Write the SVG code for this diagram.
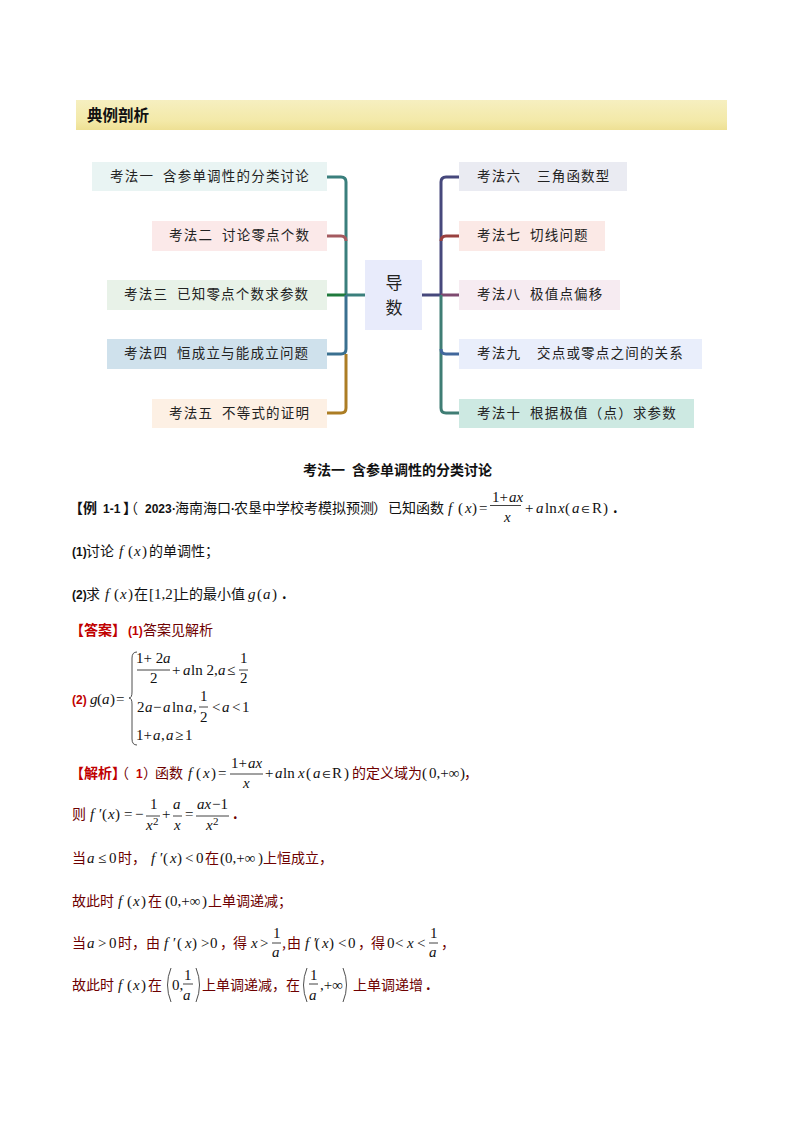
<svg xmlns="http://www.w3.org/2000/svg" width="794" height="1123" viewBox="0 0 794 1123">
<style>
text{font-family:"Liberation Sans","Noto Sans CJK SC",sans-serif;font-size:14px;fill:#111}
.n{font-family:"Noto Sans CJK SC","Liberation Sans",sans-serif;font-size:13.500px;letter-spacing:1.200px;fill:#222}
.z{font-family:"Noto Sans CJK SC",sans-serif}
.b{font-weight:700}
.i{font-family:"Liberation Serif",serif;font-style:italic;font-size:15px}
.u{font-family:"Liberation Serif",serif;font-size:15px}
.e{font-family:"DejaVu Sans",sans-serif;font-size:10px}
.s{font-size:11px}
.l{font-family:"Liberation Sans",sans-serif;font-weight:700;font-size:12px}
.red{fill:#c00000}
.dr{fill:#6e0000}
.dr .i,.dr .u,.dr .e,.k .i,.k .u,.k .e{fill:#111}
.dr .red{fill:#c00000}
.c{fill:none;stroke-width:3;stroke-linejoin:round}
.bar{stroke:#111;stroke-width:.8;fill:none}
.p{stroke:#222;stroke-width:.8;fill:none}
</style>
<defs><linearGradient id="hd" x1="0" y1="0" x2="0" y2="1"><stop offset="0" stop-color="#f6efc0"/><stop offset=".7" stop-color="#f3e9a8"/><stop offset="1" stop-color="#eee094"/></linearGradient></defs>
<rect width="794" height="1123" fill="#fff"/>
<g id="header"><rect x="76" y="100" width="651" height="30" fill="url(#hd)"/><text class="z b" x="87" y="121" style="font-size:15.500px">典例剖析</text></g>
<g id="connectors">
<path class="c" stroke="#3a7f7c" d="M327 177H341Q346 177 346 182V295"/>
<path class="c" stroke="#a45a5f" d="M327 236H341Q346 236 346 241"/>
<path class="c" stroke="#1f7a3c" d="M327 295H346"/>
<path class="c" stroke="#3a7f7c" d="M346 295H365"/>
<path class="c" stroke="#3a7090" d="M327 354H341Q346 354 346 349V295"/>
<path class="c" stroke="#ac7d24" d="M327 413H341Q346 413 346 408V354"/>
<path class="c" stroke="#46487c" d="M459 177H446Q441 177 441 182V295"/>
<path class="c" stroke="#99403f" d="M459 236H446Q441 236 441 241"/>
<path class="c" stroke="#46487c" d="M422 295H441"/>
<path class="c" stroke="#7e4a70" d="M441 295H459"/>
<path class="c" stroke="#3f7d74" d="M441 295V408Q441 413 446 413H459"/>
<path class="c" stroke="#41679c" d="M459 354H446Q441 354 441 349"/>
</g>
<g id="n1"><rect x="92" y="162" width="235" height="29" fill="#e9f4f3"/><text class="n" y="181"><tspan x="110">考法一</tspan><tspan x="163">含参单调性的分类讨论</tspan></text></g>
<g id="n2"><rect x="152" y="221" width="175" height="30" fill="#fbe9e9"/><text class="n" y="240"><tspan x="169">考法二</tspan><tspan x="222">讨论零点个数</tspan></text></g>
<g id="n3"><rect x="107" y="280" width="220" height="30" fill="#e8f2e8"/><text class="n" y="299"><tspan x="124">考法三</tspan><tspan x="177">已知零点个数求参数</tspan></text></g>
<g id="n4"><rect x="107" y="339" width="220" height="30" fill="#cfe1ec"/><text class="n" y="358"><tspan x="124">考法四</tspan><tspan x="177">恒成立与能成立问题</tspan></text></g>
<g id="n5"><rect x="152" y="399" width="175" height="29" fill="#fdf0e4"/><text class="n" y="418"><tspan x="169">考法五</tspan><tspan x="222">不等式的证明</tspan></text></g>
<g id="center"><rect x="365" y="260" width="57" height="70" fill="#e8ebfb"/><text class="z" x="394" y="289" text-anchor="middle" style="font-size:17px;fill:#222">导</text><text class="z" x="394" y="314" text-anchor="middle" style="font-size:17px;fill:#222">数</text></g>
<g id="n6"><rect x="459" y="162" width="168" height="29" fill="#eaebf2"/><text class="n" y="181"><tspan x="477">考法六</tspan><tspan x="537">三角函数型</tspan></text></g>
<g id="n7"><rect x="459" y="221" width="146" height="30" fill="#fbe9e6"/><text class="n" y="240"><tspan x="477">考法七</tspan><tspan x="530">切线问题</tspan></text></g>
<g id="n8"><rect x="459" y="280" width="161" height="30" fill="#f6ebf1"/><text class="n" y="299"><tspan x="477">考法八</tspan><tspan x="530">极值点偏移</tspan></text></g>
<g id="n9"><rect x="459" y="339" width="243" height="30" fill="#e9eefb"/><text class="n" y="358"><tspan x="477">考法九</tspan><tspan x="537">交点或零点之间的关系</tspan></text></g>
<g id="n10"><rect x="459" y="399" width="235" height="29" fill="#cde9e2"/><text class="n" y="418"><tspan x="477">考法十</tspan><tspan x="530">根据极值（点）求参数</tspan></text></g>

<g id="body">
<text class="z b" y="475"><tspan x="303">考法一</tspan><tspan x="352">含参单调性的分类讨论</tspan></text>

<text class="k z" y="513"><tspan x="69" class="b">【例</tspan><tspan x="103" class="l">1-1</tspan><tspan x="123" class="b" style="letter-spacing:-6px">】</tspan><tspan>（</tspan><tspan x="145" class="l">2023</tspan><tspan x="172" class="l">·</tspan><tspan x="175">海南海口</tspan><tspan x="231" class="l">·</tspan><tspan x="234">农垦中学校考模拟预测</tspan><tspan x="373">）</tspan><tspan x="388">已知函数</tspan><tspan x="448" class="i">f</tspan><tspan x="458" class="u">(</tspan><tspan x="465" class="i">x</tspan><tspan x="472" class="u">)</tspan><tspan x="479" class="u">=</tspan><tspan x="525" class="u">+</tspan><tspan x="536" class="i">a</tspan><tspan x="545" class="u">ln</tspan><tspan x="558" class="i">x</tspan><tspan x="565" class="u">(</tspan><tspan x="572" class="i">a</tspan><tspan x="581" class="e">∈</tspan><tspan x="592" class="u">R</tspan><tspan x="603" class="u">)</tspan><tspan x="613" class="b">.</tspan></text>
<text y="502"><tspan x="492" class="u">1+</tspan><tspan x="509" class="i">ax</tspan></text><path class="bar" d="M490 505.500H521"/><text class="i" x="504" y="522">x</text>

<text class="z" y="556"><tspan x="72" class="l">(1)</tspan><tspan x="86">讨论</tspan><tspan x="119" class="i">f</tspan><tspan x="128" class="u">(</tspan><tspan x="134" class="i">x</tspan><tspan x="142" class="u">)</tspan><tspan x="149">的单调性；</tspan></text>
<text class="z" y="599"><tspan x="72" class="l">(2)</tspan><tspan x="86">求</tspan><tspan x="105" class="i">f</tspan><tspan x="114" class="u">(</tspan><tspan x="120" class="i">x</tspan><tspan x="128" class="u">)</tspan><tspan x="134">在</tspan><tspan x="149" class="u">[1,2]</tspan><tspan x="175">上的最小值</tspan><tspan x="248" class="i">g</tspan><tspan x="257" class="u">(</tspan><tspan x="263" class="i">a</tspan><tspan x="272" class="u">)</tspan><tspan x="282" class="b">.</tspan></text>

<text class="z red" y="635"><tspan x="70" class="b">【答案】</tspan><tspan x="128" class="l">(1)</tspan><tspan x="143" class="dr">答案见解析</tspan></text>
<text y="704"><tspan x="72" class="red l">(2)</tspan><tspan x="90" class="i">g</tspan><tspan x="97" class="u">(</tspan><tspan x="102" class="i">a</tspan><tspan x="110" class="u">)</tspan><tspan x="116" class="u">=</tspan></text>
<path class="p" d="M137 652Q132 652 132 658V692Q132 698 129 698Q132 698 132 704V739Q132 745 137 745"/>
<text y="663"><tspan x="136" class="u">1+ 2</tspan><tspan x="163" class="i">a</tspan></text><path class="bar" d="M137 670H170"/><text class="u" x="150" y="683">2</text>
<text y="675"><tspan x="172" class="u">+</tspan><tspan x="183" class="i">a</tspan><tspan x="191" class="u">ln 2,</tspan><tspan x="218" class="i">a</tspan><tspan x="227" class="u">≤</tspan></text>
<text class="u" x="240" y="663">1</text><path class="bar" d="M239 670H248"/><text class="u" x="240" y="683">2</text>
<text y="712"><tspan x="137" class="u">2</tspan><tspan x="145" class="i">a</tspan><tspan x="153" class="u">−</tspan><tspan x="163" class="i">a</tspan><tspan x="172" class="u">ln</tspan><tspan x="185" class="i">a</tspan><tspan x="193" class="u">,</tspan><tspan x="212" class="u">&lt;</tspan><tspan x="222" class="i">a</tspan><tspan x="232" class="u">&lt;</tspan><tspan x="242" class="u">1</tspan></text>
<text class="u" x="200" y="701">1</text><path class="bar" d="M199 707H208"/><text class="u" x="200" y="722">2</text>
<text y="740"><tspan x="136" class="u">1+</tspan><tspan x="153" class="i">a</tspan><tspan x="161" class="u">,</tspan><tspan x="166" class="i">a</tspan><tspan x="175" class="u">≥</tspan><tspan x="185" class="u">1</tspan></text>

<text class="z dr" y="778"><tspan x="70" class="red b">【解析</tspan><tspan class="red b" style="letter-spacing:-4px">】</tspan><tspan>（</tspan><tspan x="136" class="red l">1</tspan><tspan x="143">）</tspan><tspan x="155">函数</tspan><tspan x="188" class="i">f</tspan><tspan x="196" class="u">(</tspan><tspan x="203" class="i">x</tspan><tspan x="211" class="u">)</tspan><tspan x="218" class="u">=</tspan><tspan x="265" class="u">+</tspan><tspan x="275" class="i">a</tspan><tspan x="283" class="u">ln</tspan><tspan x="298" class="i">x</tspan><tspan x="306" class="u">(</tspan><tspan x="313" class="i">a</tspan><tspan x="322" class="e">∈</tspan><tspan x="332" class="u">R</tspan><tspan x="344" class="u">)</tspan><tspan x="352">的定义域为</tspan><tspan x="422" class="u">(</tspan><tspan x="429" class="u">0,+∞</tspan><tspan x="460" class="u">)</tspan><tspan x="464">，</tspan></text>
<text y="768"><tspan x="231" class="u">1+</tspan><tspan x="248" class="i">ax</tspan></text><path class="bar" d="M230 774H263"/><text class="i" x="243" y="788">x</text>

<text class="z dr" y="819"><tspan x="72">则</tspan><tspan x="90" class="i">f ′</tspan><tspan x="102" class="u">(</tspan><tspan x="108" class="i">x</tspan><tspan x="115" class="u">)</tspan><tspan x="124" class="u">=</tspan><tspan x="135" class="u">−</tspan><tspan x="162" class="u">+</tspan><tspan x="185" class="u">=</tspan><tspan x="233" class="b">.</tspan></text>
<text class="u" x="150" y="809">1</text><path class="bar" d="M146 816H160"/><text y="830"><tspan x="146" class="i">x</tspan><tspan x="153" dy="-5" class="u s">2</tspan></text>
<text class="i" x="173" y="809">a</text><path class="bar" d="M173 816H182"/><text class="i" x="174" y="830">x</text>
<text y="809"><tspan x="197" class="i">ax</tspan><tspan x="212" class="u">−1</tspan></text><path class="bar" d="M196 816H229"/><text y="830"><tspan x="206" class="i">x</tspan><tspan x="213" dy="-5" class="u s">2</tspan></text>

<text class="z dr" y="863"><tspan x="72">当</tspan><tspan x="87" class="i">a</tspan><tspan x="98" class="u">≤</tspan><tspan x="109" class="u">0</tspan><tspan x="118">时，</tspan><tspan x="151" class="i">f ′</tspan><tspan x="163" class="u">(</tspan><tspan x="170" class="i">x</tspan><tspan x="177" class="u">)</tspan><tspan x="185" class="u">&lt;</tspan><tspan x="196" class="u">0</tspan><tspan x="205">在</tspan><tspan x="220" class="u">(</tspan><tspan x="225" class="u">0,+∞</tspan><tspan x="258" class="u">)</tspan><tspan x="263">上恒成立，</tspan></text>
<text class="z dr" y="906"><tspan x="72">故此时</tspan><tspan x="118" class="i">f</tspan><tspan x="127" class="u">(</tspan><tspan x="133" class="i">x</tspan><tspan x="141" class="u">)</tspan><tspan x="148">在</tspan><tspan x="165" class="u">(</tspan><tspan x="170" class="u">0,+∞</tspan><tspan x="202" class="u">)</tspan><tspan x="208">上单调递减；</tspan></text>
<text class="z dr" y="948"><tspan x="72">当</tspan><tspan x="87" class="i">a</tspan><tspan x="98" class="u">&gt;</tspan><tspan x="109" class="u">0</tspan><tspan x="118">时，由</tspan><tspan x="164" class="i">f ′</tspan><tspan x="177" class="u">(</tspan><tspan x="185" class="i">x</tspan><tspan x="192" class="u">)</tspan><tspan x="201" class="u">&gt;</tspan><tspan x="210" class="u">0</tspan><tspan x="220">，</tspan><tspan x="233">得</tspan><tspan x="251" class="i">x</tspan><tspan x="260" class="u">&gt;</tspan><tspan x="282">,</tspan><tspan x="287">由</tspan><tspan x="305" class="i">f ′</tspan><tspan x="315" class="u">(</tspan><tspan x="322" class="i">x</tspan><tspan x="329" class="u">)</tspan><tspan x="338" class="u">&lt;</tspan><tspan x="348" class="u">0</tspan><tspan x="358">，</tspan><tspan x="371">得</tspan><tspan x="387" class="u">0</tspan><tspan x="395" class="u">&lt;</tspan><tspan x="407" class="i">x</tspan><tspan x="417" class="u">&lt;</tspan><tspan x="441">，</tspan></text>
<text class="u" x="273" y="938">1</text><path class="bar" d="M272 943H281"/><text class="i" x="272" y="957">a</text>
<text class="u" x="430" y="938">1</text><path class="bar" d="M429 943H438"/><text class="i" x="429" y="957">a</text>

<text class="z dr" y="990"><tspan x="72">故此时</tspan><tspan x="118" class="i">f</tspan><tspan x="127" class="u">(</tspan><tspan x="133" class="i">x</tspan><tspan x="141" class="u">)</tspan><tspan x="148">在</tspan><tspan x="172" class="u">0,</tspan><tspan x="202">上单调递减，</tspan><tspan x="286">在</tspan><tspan x="320" class="u">,+∞</tspan><tspan x="353">上单调递增</tspan><tspan x="426" class="b">.</tspan></text>
<path class="p" d="M171 968Q164 985 171 1002M196 968Q203 985 196 1002M307 968Q300 985 307 1002M343 968Q350 985 343 1002"/>
<text class="u" x="184" y="980">1</text><path class="bar" d="M183 984H193"/><text class="i" x="183" y="1000">a</text>
<text class="u" x="310" y="980">1</text><path class="bar" d="M309 984H318"/><text class="i" x="309" y="1000">a</text>
</g>
</svg>
